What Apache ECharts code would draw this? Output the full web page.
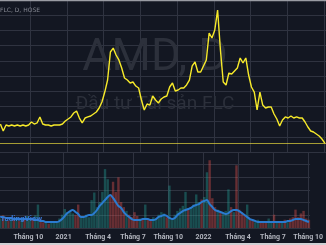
<!DOCTYPE html>
<html><head><meta charset="utf-8">
<script src="https://cdn.jsdelivr.net/npm/echarts@6/dist/echarts.min.js"></script>
<style>html,body{margin:0;padding:0;background:#131722;overflow:hidden}#c{width:326px;height:245px}</style>
</head><body><div id="c"></div>
<script>
// weekly closes (thousand VND), first week starting 2020-07-20
const firstWeek = [2020, 6, 20];
const price = [3.68,2.76,3.55,3.42,3.55,3.42,3.55,3.42,3.55,3.42,
  3.55,3.95,3.68,3.82,4.61,3.68,3.55,3.55,3.42,3.55,
  3.55,3.55,3.68,4.08,4.34,4.61,5.13,5.39,4.47,3.82,
  4.47,4.61,4.74,5.00,5.26,5.79,6.58,7.89,9.47,13.16,
  13.68,12.76,12.11,11.05,9.74,9.47,9.08,9.21,8.68,8.42,
  6.84,5.53,6.32,6.18,7.37,6.84,6.45,6.97,7.24,7.37,
  8.55,9.08,8.03,8.16,8.42,8.42,8.82,9.47,11.32,11.84,
  10.53,10.53,11.32,12.11,15.66,15.00,16.05,18.68,13.42,9.21,
  8.82,10.39,10.26,10.66,11.05,12.37,11.71,12.37,10.13,8.55,
  7.89,5.53,7.89,6.18,5.79,5.92,5.92,5.00,4.34,3.42,
  4.21,4.61,4.47,4.74,4.47,4.61,4.47,4.47,3.95,3.29,
  2.76,2.63,2.37,2.11,1.71,1.18];
// weekly volume (million shares)
const volume = [7.5,10,6.5,5.5,7.5,6.5,8.5,5.5,7.5,6.5,
  9.5,7.5,6.5,10,18.5,6.5,4.5,5.5,3.5,4.5,
  5.5,4.5,7.5,10.5,15,12.5,13.5,11.5,10.5,18.5,
  8.5,9.5,10.5,8.5,22,28,16.5,20.5,28.5,46.5,
  38.5,26.5,36.5,28.5,40,20.5,16.5,13.5,10.5,8.5,
  12.5,9.5,7.5,6.5,18.5,7.5,6.5,8.5,7.5,10.5,
  12.5,11.5,8.5,33.5,7.5,10.5,13.5,15.5,17.5,28.5,
  14.5,16.5,18.5,26.5,20.5,22.5,24.5,44,53.5,23.5,
  16.5,14.5,12.5,11.5,13.5,30.5,16.5,12.5,49.5,14.5,
  12.5,10.5,18.5,6.5,5.5,4.5,6.5,4.5,5.5,4.5,
  7.5,5.5,10.5,4.5,5.5,4.5,6.5,5.5,7.5,8.5,
  14.5,8.5,11.5,13.5,7.5,6.5];
// volume moving average
const volumeMA = [8.7,8.7,7.9,7.9,7.9,7.1,7.1,7.1,7.1,7.1,
  7.1,7.1,7.1,6.3,6.3,5.5,5.5,4.7,4.7,4.7,
  4.7,4.7,5.5,7.1,9.5,11.8,13.4,14.2,12.6,11.0,
  8.7,8.7,9.5,10.3,10.3,11.8,14.2,17.4,19.7,22.1,
  24.5,26.0,23.7,20.5,17.4,15.8,12.6,10.3,8.7,7.1,
  6.3,6.3,6.3,7.1,7.1,7.1,6.3,6.3,7.1,8.7,
  9.5,10.3,9.5,7.9,7.1,7.9,10.3,11.8,13.4,14.2,
  15.0,15.8,17.4,18.2,18.9,20.5,21.3,22.1,18.9,16.6,
  14.2,13.4,12.6,11.8,11.0,11.8,13.4,14.2,14.2,13.4,
  11.8,10.3,8.7,7.1,6.3,5.5,4.7,4.7,4.7,4.7,
  4.7,4.7,4.7,4.7,4.7,4.7,4.7,5.5,5.5,6.3,
  7.1,7.1,7.1,6.3,5.5,4.7];
const tickDates = [[2020,9,1],[2021,0,1],[2021,3,1],[2021,6,1],[2021,9,1],[2022,0,1],[2022,3,1],[2022,6,1],[2022,9,1]];
const tickLabels = ['Tháng 10','2021','Tháng 4','Tháng 7','Tháng 10','2022','Tháng 4','Tháng 7','Tháng 10'];
const title = 'AMD, D';
const subtitle = 'Đầu tư Tài sản FLC';
const legendText = 'Đầu tư Tài sản FLC, D, HOSE';

const DAY = 864e5;
const t0 = Date.UTC(firstWeek[0], firstWeek[1], firstWeek[2]);
const dates = price.map((_, i) => t0 + i * 7 * DAY);
const tickVals = tickDates.map(d => Date.UTC(d[0], d[1], d[2]));
const xMin = Date.UTC(2020, 6, 19), xMax = Date.UTC(2022, 9, 6);

const priceData = price.map((v, i) => [dates[i], v]);
const volData = volume.map((v, i) => ({
  value: [dates[i], v],
  itemStyle: { color: (i === 0 || price[i] >= price[i - 1]) ? 'rgba(38,166,154,0.38)' : 'rgba(239,83,80,0.38)' }
}));
const maData = volumeMA.map((v, i) => [dates[i], v]);

const gridLine = { show: true, lineStyle: { color: '#2f3340', width: 1 } };
function labelFor(val) {
  let best = 0, bd = Infinity;
  tickVals.forEach((t, k) => { const d = Math.abs(t - val); if (d < bd) { bd = d; best = k; } });
  return tickLabels[best];
}
const chart = echarts.init(document.getElementById('c'), null, { renderer: 'canvas' });
chart.setOption({
  backgroundColor: '#131722',
  animation: false,
  grid: [
    { left: 0, right: 0, top: 0, height: 152 },
    { left: 0, right: 0, top: 152, height: 76 }
  ],
  xAxis: [
    { type: 'value', gridIndex: 0, min: xMin, max: xMax,
      axisLine: { show: false }, axisTick: { show: false, customValues: tickVals },
      axisLabel: { show: false, customValues: tickVals }, splitLine: gridLine },
    { type: 'value', gridIndex: 1, min: xMin, max: xMax,
      axisLine: { show: true, lineStyle: { color: '#2f3340' } }, axisTick: { show: false, customValues: tickVals },
      axisLabel: { show: true, customValues: tickVals, formatter: v => labelFor(v), color: '#b2b5be',
        fontSize: 7, fontWeight: 'bold', fontFamily: 'Roboto', margin: 6, hideOverlap: false,
        alignMinLabel: 'center', alignMaxLabel: 'center' },
      splitLine: gridLine }
  ],
  yAxis: [
    { type: 'value', gridIndex: 0, min: 0, max: 20, interval: 2, axisLine: { show: false },
      axisTick: { show: false }, axisLabel: { show: false }, splitLine: gridLine },
    { type: 'value', gridIndex: 1, min: 0, max: 60, interval: 10, axisLine: { show: false },
      axisTick: { show: false }, axisLabel: { show: false }, splitLine: gridLine }
  ],
  series: [
    { type: 'bar', xAxisIndex: 1, yAxisIndex: 1, data: volData, barWidth: 2.4, z: 2, silent: true },
    { type: 'line', xAxisIndex: 1, yAxisIndex: 1, data: maData, showSymbol: false, smooth: 0.3,
      lineStyle: { color: '#2a7bd0', width: 2 }, z: 3, silent: true },
    { type: 'line', xAxisIndex: 0, yAxisIndex: 0, data: priceData, showSymbol: false,
      lineStyle: { color: '#f7ea2a', width: 1.4 }, z: 5, silent: true,
      markLine: { silent: true, symbol: ['none', 'none'], label: { show: false },
        lineStyle: { color: 'rgba(230,215,60,0.7)', width: 1, type: 'solid' },
        data: [{ yAxis: price[price.length - 1] }] } }
  ],
  graphic: [
    { type: 'text', x: 155, y: 59, z: 1, silent: true,
      style: { text: title, fill: '#2c303b', font: '45px Roboto', textAlign: 'center', textVerticalAlign: 'middle' } },
    { type: 'text', x: 155, y: 104, z: 1, silent: true,
      style: { text: subtitle, fill: '#2c303b', font: '19px Roboto', textAlign: 'center', textVerticalAlign: 'middle' } },
    { type: 'text', x: 40, y: 10, z: 10, silent: true,
      style: { text: legendText, fill: '#868993', font: '6px "DejaVu Sans"', textAlign: 'right', textVerticalAlign: 'middle' } },
    { type: 'text', x: 42, y: 219, z: 10, silent: true,
      style: { text: 'by TradingView', fill: '#3a78d6', font: 'bold 8px Roboto', textAlign: 'right', textVerticalAlign: 'middle' } },
    { type: 'rect', shape: { x: 0, y: 0, width: 326, height: 1.3 }, style: { fill: '#9a9ca3' }, z: 20, silent: true },
    { type: 'rect', shape: { x: 0, y: 243, width: 326, height: 2 }, style: { fill: '#cfd0d4' }, z: 20, silent: true }
  ]
});
</script>
</body></html>
